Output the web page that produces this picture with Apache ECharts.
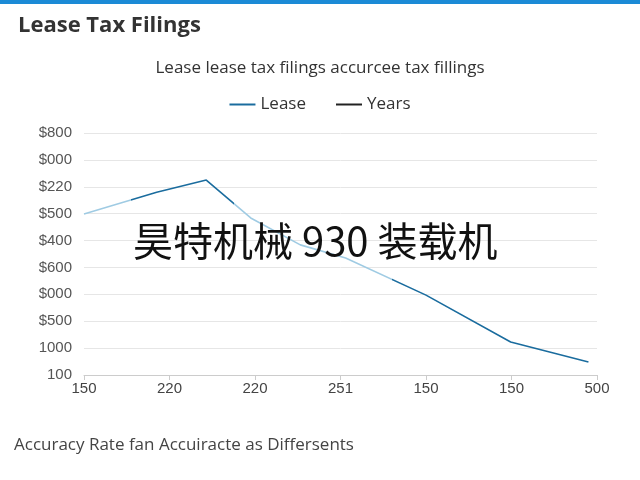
<!DOCTYPE html>
<html><head><meta charset="utf-8">
<script src="https://cdn.jsdelivr.net/npm/echarts@6/dist/echarts.min.js"></script>
<style>html,body{margin:0;padding:0;background:#fff}#c{width:640px;height:480px}</style>
</head><body><div id="c"></div>
<script>
const yTickLabels = ['100','1000','$500','$000','$600','$400','$500','$220','$000','$800'];
const xTickLabels = ['150','220','220','251','150','150','500'];
const leaseX = [0, 0.85, 1.43, 1.95, 2.53, 3.06, 4.0, 4.99, 5.9];
const leaseY = [5.99, 6.8, 7.25, 5.84, 4.84, 4.35, 2.97, 1.23, 0.48];
const chart = echarts.init(document.getElementById('c'));
chart.setOption({
  animation:false,
  graphic:[
    {type:'rect',shape:{x:0,y:0,width:640,height:4},style:{fill:'#1b8ad6'}},
    {type:'text',left:18,top:15,style:{text:'Lease Tax Filings',font:'bold 22px "Open Sans"',fill:'#333'}},
    {type:'text',left:'center',top:60,style:{text:'Lease lease tax filings accurcee tax fillings',font:'17px "Open Sans"',fill:'#333'}},
    {type:'text',left:14,top:437,style:{text:'Accuracy Rate fan Accuiracte as Differsents',font:'17px "Open Sans"',fill:'#444'}},
    {type:'text',left:133,top:221,z:100,style:{text:'昊特机械 930 装载机',font:'40px "Noto Sans CJK SC"',fill:'#111'}}
  ],
  legend:{top:91,left:'center',itemWidth:26,itemGap:30,textStyle:{fontSize:17,color:'#333',fontFamily:'Open Sans'},
    data:[{name:'Lease',icon:'path://M0,0H26V2H0Z'},{name:'Years',icon:'path://M0,0H26V2H0Z'}]},
  visualMap:{show:false,type:'piecewise',dimension:0,seriesIndex:0,
    pieces:[{lt:0.55,color:'#9fcbe3'},{gte:0.55,lt:1.75,color:'#1a6c9e'},{gte:1.75,lt:3.6,color:'#9fcbe3'},{gte:3.6,color:'#1a6c9e'}]},
  grid:{left:84,right:43,top:133,bottom:105},
  xAxis:{type:'value',min:0,max:6,interval:1,
    axisLine:{show:true,lineStyle:{color:'#ccc'}},axisTick:{show:true,lineStyle:{color:'#ccc'}},
    splitLine:{show:false},
    axisLabel:{formatter:v=>xTickLabels[Math.round(v)],fontSize:15,color:'#444',margin:6}},
  yAxis:{type:'value',min:0,max:9,interval:1,
    axisLine:{show:false},axisTick:{show:false},
    splitLine:{lineStyle:{color:'#e6e6e6'}},
    axisLabel:{formatter:v=>yTickLabels[Math.round(v)],fontSize:15,color:'#555',margin:12}},
  series:[
    {name:'Lease',type:'line',symbol:'none',lineStyle:{width:1.6},itemStyle:{color:'#1a6c9e'},
      data:leaseX.map((x,i)=>[x,leaseY[i]])},
    {name:'Years',type:'line',symbol:'none',itemStyle:{color:'#222'},lineStyle:{color:'#222'},data:[]}
  ]
});
</script></body></html>
